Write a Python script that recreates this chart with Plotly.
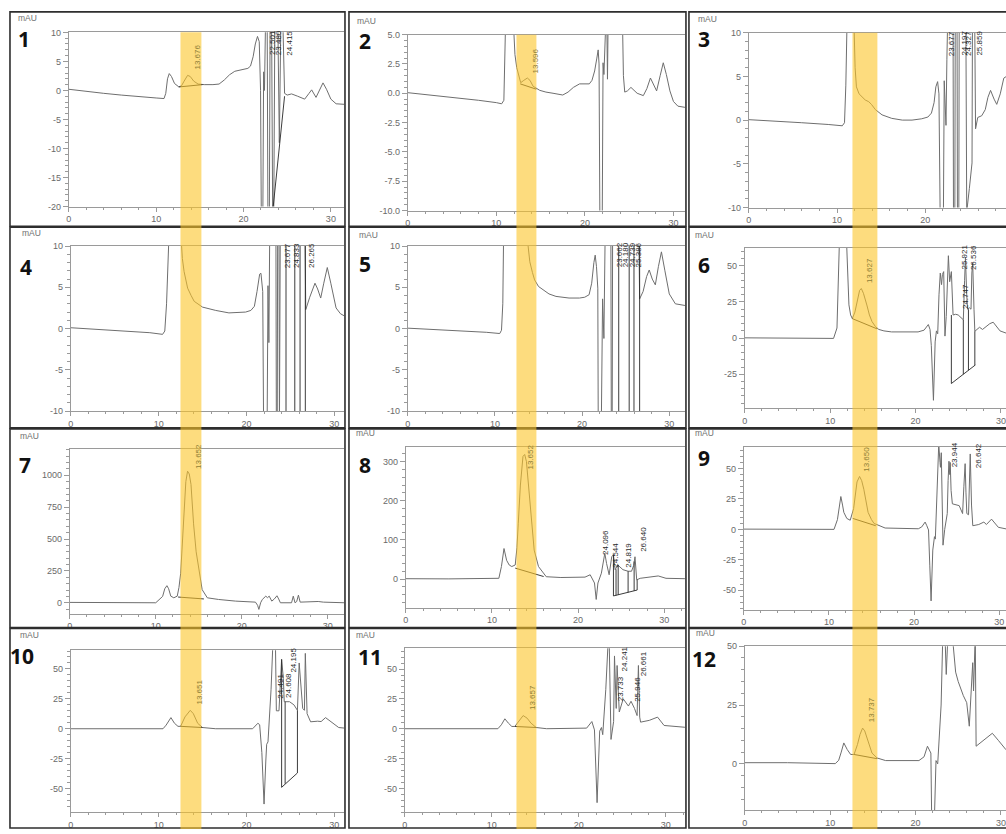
import plotly.graph_objects as go

W, H = 1006, 834

# ---------------------------------------------------------------------------
# Chromatogram signals: (retention time [min], absorbance [mAU])
# ---------------------------------------------------------------------------
trace_01 = [(0, 0.2), (2, -0.2), (4, -0.5), (6, -0.8), (8, -1.1), (10, -1.3), (10.9, -1.4), (11.1, -0.5),
            (11.3, 2.0), (11.5, 2.9), (11.75, 2.4), (12.1, 1.2), (12.6, 0.6), (12.9, 0.8), (13.2, 1.6),
            (13.6, 2.6), (13.9, 2.4), (14.3, 1.6), (14.8, 1.1), (15.5, 1.0), (16.5, 1.0), (17.2, 1.1),
            (17.8, 1.8), (18.4, 2.7), (19.0, 3.3), (19.9, 3.6), (20.5, 3.8), (20.8, 4.2), (21.1, 5.8),
            (21.35, 8.0), (21.6, 9.3), (21.8, 8.4), (21.95, 0), (22.05, -25), (22.2, -25), (22.3, 3.2),
            (22.4, 0), (22.55, 15), (22.7, 15), (22.8, -25), (22.95, -25), (23.05, 15), (23.2, 15),
            (23.35, -25), (23.45, -25), (23.6, 15), (23.9, 15), (24.1, -9), (24.3, 15), (24.45, 15),
            (24.7, -0.5), (25.0, -0.8), (25.5, -0.6), (26.2, -1.0), (27.0, -1.5), (27.5, -0.5),
            (27.8, 0.1), (28.3, -1.2), (28.7, 0.0), (29.1, 1.3), (29.5, 0.2), (30.0, -1.5),
            (30.6, -2.3), (31.6, -2.4)]

trace_02 = [(0, 0.05), (2, -0.1), (4, -0.3), (6, -0.45), (8, -0.6), (10, -0.8), (10.6, -0.9), (10.85, -0.6),
            (11.0, 3), (11.1, 8), (11.8, 8), (11.95, 5), (12.1, 3.3), (12.3, 2.2), (12.5, 1.5), (12.75, 0.9),
            (13.1, 1.1), (13.5, 1.3), (13.8, 1.1), (14.15, 0.6), (14.9, 0.25), (15.6, 0.1), (16.4, 0.0),
            (17.5, -0.15), (18.1, 0.1), (18.7, 0.5), (19.4, 0.8), (20.5, 0.8), (20.8, 1.1), (21.1, 1.9),
            (21.35, 3.0), (21.5, 3.7), (21.6, 2.5), (21.7, -12), (21.95, -12), (22.05, 2.6), (22.15, 1.6),
            (22.25, 8), (22.45, 8), (22.55, 1.2), (22.65, 8), (24.2, 8), (24.35, 1.5), (24.5, 0.1),
            (24.8, 0.2), (25.2, 0.5), (25.5, 0.3), (25.9, 0.0), (26.6, -0.2), (27.0, 0.4), (27.4, 1.3),
            (27.7, 0.8), (28.1, 0.2), (28.5, 1.5), (28.85, 2.6), (29.2, 1.6), (29.6, 0.2), (30.0, -0.7),
            (30.5, -1.1), (31.3, -1.2)]

trace_03 = [(0, 0.05), (3, -0.1), (6, -0.3), (9, -0.5), (10.6, -0.65), (10.85, -0.3), (11.0, 4), (11.15, 12),
            (11.9, 12), (12.05, 6), (12.2, 3.8), (12.5, 3.0), (12.9, 2.6), (13.2, 2.3), (13.6, 2.1),
            (13.9, 1.8), (14.35, 1.2), (15.1, 0.6), (16.2, 0.2), (17.4, 0.0), (18.5, 0.0), (19.6, 0.15),
            (20.3, 0.35), (20.7, 0.8), (21.0, 2.0), (21.2, 3.8), (21.4, 4.4), (21.55, 3.0), (21.7, -12),
            (22.05, -12), (22.15, 4.5), (22.25, 1.0), (22.35, -0.6), (22.45, 6.9), (22.55, 12), (23.15, 12),
            (23.2, -12), (23.35, -12), (23.4, 12), (23.6, 12), (23.65, -12), (23.8, -12), (23.85, 12),
            (24.6, 12), (24.7, -10.5), (25.0, -7.8), (25.3, -4.9), (25.35, 12), (25.6, 12), (25.7, -1.0),
            (25.95, 0.3), (26.4, 0.5), (26.8, 1.2), (27.1, 2.6), (27.4, 3.4), (27.8, 2.4), (28.1, 1.8),
            (28.5, 3.0), (28.9, 4.8), (29.2, 5.0)]

trace_04 = [(0, 0.1), (3, -0.1), (6, -0.3), (9, -0.5), (10.45, -0.7), (10.7, -0.3), (10.9, 3), (11.05, 8),
            (11.2, 12), (12.5, 12), (12.7, 8.5), (12.9, 6.9), (13.3, 4.9), (13.7, 4.0), (14.05, 3.3),
            (15.0, 2.6), (16.5, 2.2), (18.0, 1.9), (19.9, 2.0), (20.5, 2.2), (20.9, 2.7), (21.2, 4.5),
            (21.5, 6.6), (21.65, 6.7), (21.85, 4.5), (21.95, -12), (22.35, -12), (22.45, 5.2), (22.55, -1.7),
            (22.65, 12), (23.35, 12), (23.4, -12), (23.5, -12), (23.55, 12), (23.7, 12), (23.75, -12),
            (23.85, 12), (26.65, 12), (26.75, 2.3), (27.2, 3.8), (27.8, 5.5), (28.1, 4.8), (28.45, 3.7),
            (28.8, 5.5), (29.2, 7.4), (29.6, 5.5), (30.2, 2.5), (30.7, 1.8), (31.2, 1.5)]

trace_05 = [(0, 0.05), (3, -0.1), (6, -0.25), (9, -0.45), (10.55, -0.6), (10.75, -0.2), (10.9, 3), (11.0, 12),
            (13.6, 12), (13.85, 9.5), (14.0, 8.1), (14.3, 6.8), (14.55, 5.9), (15.0, 5.1), (15.5, 4.7),
            (16.2, 4.2), (17.0, 3.9), (18.5, 3.7), (19.7, 3.7), (20.3, 3.8), (20.8, 4.1), (21.1, 5.5),
            (21.35, 8.0), (21.5, 8.9), (21.65, 7.5), (21.8, 4.9), (21.85, -12), (22.2, -12), (22.35, 3.6),
            (22.5, -1.2), (22.65, 12), (23.3, 12), (23.35, -12), (23.45, -12), (23.5, 12), (26.5, 12),
            (26.6, 3.6), (27.0, 4.5), (27.4, 6.3), (27.7, 7.1), (28.05, 6.0), (28.4, 5.3), (28.75, 7.5),
            (29.1, 9.3), (29.5, 7.0), (30.0, 4.2), (30.7, 3.0), (31.8, 2.8)]

trace_06 = [(0, 0.2), (5, 0), (10.4, -0.2), (10.8, 7), (11.0, 40), (11.1, 70), (11.9, 70), (12.05, 40),
            (12.2, 23), (12.4, 16), (12.6, 13.5), (12.9, 18), (13.2, 27), (13.45, 33), (13.65, 34.3),
            (13.9, 31), (14.3, 22.9), (14.6, 16), (14.9, 11.5), (15.3, 8), (15.7, 6), (16.3, 5), (17.2, 4.3),
            (19.0, 4.3), (20.3, 4.3), (21.0, 5.5), (21.5, 9.4), (21.7, 6), (21.85, -5), (22.1, -43),
            (22.3, -2.6), (22.45, 5), (22.6, 3), (22.75, 30), (22.9, 45), (23.05, 37), (23.15, 44),
            (23.3, 46), (23.45, 1.4), (23.6, 15), (23.85, 57), (24.0, 39), (24.2, 46), (24.4, 16),
            (24.7, 16.5), (25.0, 16), (25.3, 14.5), (25.6, 12.7), (25.75, 40), (25.85, 56), (26.0, 30),
            (26.1, 20), (26.3, 21), (26.5, 20), (26.6, 45), (26.7, 52), (26.85, 20), (26.95, 4.7),
            (27.2, 6), (27.5, 7.5), (27.85, 6), (28.3, 8.4), (28.7, 10), (29.1, 11), (29.5, 8),
            (29.9, 5), (30.6, 3.5)]

trace_07 = [(0, 3), (5, 2), (10, 0), (10.8, 50), (11.05, 110), (11.3, 134), (11.5, 110), (11.75, 52),
            (12.1, 39), (12.5, 52), (12.7, 120), (12.9, 232), (13.1, 480), (13.3, 748), (13.5, 950),
            (13.7, 1032), (13.9, 1010), (14.1, 929), (14.4, 619), (14.7, 400), (15.0, 258), (15.4, 103),
            (16.0, 39), (17.3, 26), (19.3, 13), (21.6, 5), (21.85, -20), (22.0, -52), (22.2, 0), (22.4, 26),
            (22.8, 52), (23.0, 40), (23.2, 52), (23.5, 13), (23.8, 30), (24.1, 55), (24.3, 30), (24.5, 0),
            (25.8, 0), (26.0, 52), (26.2, 0), (26.4, 10), (26.6, 60), (26.8, 5), (28.9, 10), (29.5, 5),
            (32, 0)]

trace_08 = [(0, 1), (5, 0.5), (10.8, 2), (11.1, 32), (11.4, 78), (11.7, 48), (12.0, 36), (12.3, 32),
            (12.7, 36), (12.9, 80), (13.05, 141), (13.3, 240), (13.6, 313), (13.8, 318), (14.0, 300),
            (14.2, 250), (14.4, 183), (14.65, 120), (14.9, 74), (15.4, 32), (16.3, 6), (18, 4), (20.8, 5),
            (21.4, 11), (21.9, -10), (22.1, -52), (22.3, -10), (22.7, 15), (23.1, 66), (23.3, 40),
            (23.6, 11), (23.9, 57), (24.1, 62), (24.3, 24), (24.6, 36), (25.2, 24), (25.8, 20), (26.2, 20),
            (26.45, 35), (26.6, 57), (26.8, -2), (27.2, 2), (28.5, 5), (29.3, 8), (30.2, 2), (32.4, 1)]

trace_09 = [(0, 0.2), (5, 0), (10.6, 0), (11.0, 8), (11.2, 20), (11.4, 27), (11.6, 20), (11.75, 14),
            (12.1, 9), (12.5, 7.5), (12.9, 17), (13.3, 39), (13.6, 43.5), (13.85, 40), (14.1, 33),
            (14.35, 22), (14.6, 14), (15.0, 8), (15.3, 4.9), (16.6, 1.1), (20.5, 0.5), (20.9, 2), (21.3, 6),
            (21.5, 3), (21.7, -0.5), (21.85, -30), (22.0, -58.8), (22.2, -17), (22.3, -8), (22.4, -6),
            (22.5, -8), (22.7, 30), (22.9, 70), (23.05, 55), (23.1, 51), (23.2, 63), (23.4, -13),
            (23.6, 0), (23.9, 13), (24.0, 40), (24.1, 56), (24.2, 45), (24.25, 55), (24.35, 32),
            (24.5, 21), (25.3, 19.5), (25.7, 13), (25.85, 35), (26.0, 54), (26.1, 30), (26.2, 13),
            (26.4, 12), (26.6, 62), (26.75, 20), (26.9, 3), (27.6, 4), (28.2, 6), (28.5, 4), (29.1, 8.4),
            (29.9, 1.7), (30.8, 0.4)]

trace_10 = [(0, 0), (5, -0.3), (10.5, 0), (10.85, 3), (11.4, 9.3), (11.8, 4.6), (12.2, 2), (12.5, 2),
            (13.0, 9.9), (13.6, 15.4), (13.95, 12.6), (14.45, 4.5), (15.0, 1), (16.5, 0), (20.7, 0),
            (21.3, 4.6), (21.5, 3.3), (21.75, -20), (22.0, -63), (22.2, -27), (22.3, -13), (22.45, -11),
            (22.8, 33), (23.0, 70), (23.3, 70), (23.4, 15), (23.7, 15), (24.0, 58), (24.2, 42),
            (24.3, 22.6), (24.9, 22.6), (25.4, 20), (25.8, 15.4), (26.0, 55), (26.2, 33), (26.4, 17),
            (26.6, 15.4), (26.7, 63), (26.9, 12.6), (27.3, 5.8), (28.1, 6.3), (28.5, 6), (29.0, 9.3),
            (29.8, 4.6), (30.5, 1), (31.2, 0.5)]

trace_11 = [(0, 0), (5, -0.2), (10.7, 0), (11.1, 3.3), (11.5, 8.3), (11.9, 4.7), (12.3, 1.9), (12.65, 1.9),
            (13.1, 6), (13.6, 11), (14.05, 8.9), (14.5, 4.7), (15.1, 1), (16.3, 0), (20.9, 0.5), (21.5, 6),
            (21.8, -1), (22.1, -62), (22.4, -2), (22.6, 1), (22.75, -5), (23.1, 33), (23.35, 70),
            (23.5, 70), (23.7, -9), (24.0, 6), (24.1, 61), (24.3, 17), (24.4, 53), (24.65, 14), (25.1, 25),
            (25.7, 19), (26.0, 23), (26.4, 17), (26.7, 11), (26.85, 53), (27.0, 9.7), (27.1, 5.5),
            (28.1, 7), (29.05, 9.7), (29.8, 2.7), (31.5, 1.4), (32.2, 1.2)]

trace_12 = [(0, 0.5), (5, 0.5), (10.6, 0.1), (11.0, 1.5), (11.3, 5), (11.6, 8.9), (12.0, 6.1), (12.4, 4.0),
            (12.8, 4), (13.2, 8.2), (13.5, 12.5), (13.8, 15.2), (14.05, 14), (14.35, 10.3), (14.9, 4.6),
            (15.5, 2.5), (16.5, 1.4), (20.4, 1.4), (21.0, 3), (21.4, 7.5), (21.8, 4.6), (21.9, -25),
            (22.2, -25), (22.4, 1.4), (22.6, 0), (23.0, 25), (23.2, 55), (23.45, 55), (23.6, 38),
            (23.8, 55), (24.3, 55), (24.7, 39), (25.0, 35), (25.6, 29), (26.0, 26), (26.3, 16), (26.5, 32),
            (26.7, 43), (26.8, 31), (27.0, 55), (27.1, 7.5), (27.6, 8.9), (28.4, 11), (29.0, 13),
            (29.7, 10), (30.6, 6)]

# Integration baselines and drop lines (segments separated by None)
base_01 = [(12.6, 0.6), (15.3, 1.0), None, (23.4, -20), (24.7, -1.0)]
base_02 = [(12.7, 0.8), (14.5, 0.35)]
base_03 = []
base_04 = [(24.5, -12), (24.5, 12), None, (25.5, -12), (25.5, 12), None,
           (26.1, -12), (26.1, 12), None, (26.7, -12), (26.7, 12)]
base_05 = [(24.2, -12), (24.2, 12), None, (25.4, -12), (25.4, 12), None,
           (25.95, -12), (25.95, 12), None, (26.6, -12), (26.6, 12)]
base_06 = [(12.6, 13.5), (15.5, 6.4), None, (24.2, -31.4), (27.0, -18.6), None,
           (24.2, -31.4), (24.2, 16), None, (25.6, -25), (25.6, 12.7), None,
           (26.2, -22.3), (26.2, 20), None, (26.95, -18.8), (26.95, 4.7)]
base_07 = [(12.6, 45), (15.6, 30)]
base_08 = [(12.7, 28), (16.0, 6.5), None, (24.1, -43), (26.85, -28), None,
           (24.1, -43), (24.1, 62), None, (24.4, -41.5), (24.4, 25), None,
           (24.65, -40), (24.65, 36), None, (25.8, -34), (25.8, 20), None,
           (26.5, -30), (26.5, 45), None, (26.85, -28), (26.85, -2)]
base_09 = [(12.8, 9), (15.5, 3)]
base_10 = [(12.5, 2), (15.0, 1), None, (24.0, -49), (25.8, -37), None,
           (24.0, -49), (24.0, 58), None, (24.4, -46), (24.4, 22.6), None,
           (25.8, -37), (25.8, 15.4)]
base_11 = [(12.65, 1.9), (15.1, 1.0)]
base_12 = [(12.8, 4), (15.5, 2.2)]

# Peak labels: (retention time text, anchor time, anchor level)
labels_01 = [("13.676", 14.7, 3.2), ("22.501", 23.4, 5.7), ("23.480", 24.1, 5.7), ("24.415", 25.3, 5.7)]
labels_02 = [("13.596", 14.4, 1.5)]
labels_03 = [("23.677", 23.0, 7.1), ("24.197", 24.4, 7.1), ("24.327", 24.9, 7.1), ("25.859", 26.1, 7.1)]
labels_04 = [("23.677", 24.7, 7.1), ("24.833", 25.7, 7.1), ("26.265", 27.4, 7.1)]
labels_05 = [("23.662", 24.3, 7.2), ("24.180", 25.0, 7.2), ("24.739", 25.8, 7.2), ("25.386", 26.5, 7.2)]
labels_06 = [("13.627", 14.6, 36.6), ("24.747", 25.8, 18.4), ("25.921", 25.8, 45.7), ("26.536", 26.8, 45.7)]
labels_07 = [("13.652", 14.95, 1032)]
labels_08 = [("13.652", 14.5, 275), ("24.096", 23.2, 57), ("24.544", 24.3, 23), ("24.819", 25.8, 23),
             ("26.640", 27.5, 65)]
labels_09 = [("13.650", 14.4, 45.6), ("23.944", 24.7, 49), ("26.642", 27.5, 49)]
labels_10 = [("13.651", 14.6, 18.2), ("24.491", 23.9, 23.7), ("24.608", 24.85, 23.7), ("24.195", 25.4, 45.6)]
labels_11 = [("13.657", 14.74, 13.6), ("23.733", 24.75, 21), ("24.241", 25.2, 46), ("25.946", 26.65, 21),
             ("26.661", 27.4, 42)]
labels_12 = [("13.737", 14.8, 16.7)]

# y-axis tick values and minor tick step for each run
yticks_01, yminor_01 = [-20, -15, -10, -5, 0, 5, 10], 1
yticks_02, yminor_02 = [-10, -7.5, -5, -2.5, 0, 2.5, 5], 0.5
yticks_03, yminor_03 = [-10, -5, 0, 5, 10], 1
yticks_04, yminor_04 = [-10, -5, 0, 5, 10], 1
yticks_05, yminor_05 = [-10, -5, 0, 5, 10], 1
yticks_06, yminor_06 = [-25, 0, 25, 50], 5
yticks_07, yminor_07 = [0, 250, 500, 750, 1000], 50
yticks_08, yminor_08 = [0, 100, 200, 300], 20
yticks_09, yminor_09 = [-50, -25, 0, 25, 50], 5
yticks_10, yminor_10 = [-50, -25, 0, 25, 50], 5
yticks_11, yminor_11 = [-50, -25, 0, 25, 50], 5
yticks_12, yminor_12 = [0, 25, 50], 5
xticks = [0, 10, 20, 30]

traces = [trace_01, trace_02, trace_03, trace_04, trace_05, trace_06,
          trace_07, trace_08, trace_09, trace_10, trace_11, trace_12]
bases = [base_01, base_02, base_03, base_04, base_05, base_06,
         base_07, base_08, base_09, base_10, base_11, base_12]
labels = [labels_01, labels_02, labels_03, labels_04, labels_05, labels_06,
          labels_07, labels_08, labels_09, labels_10, labels_11, labels_12]
yticks = [yticks_01, yticks_02, yticks_03, yticks_04, yticks_05, yticks_06,
          yticks_07, yticks_08, yticks_09, yticks_10, yticks_11, yticks_12]
yminors = [yminor_01, yminor_02, yminor_03, yminor_04, yminor_05, yminor_06,
           yminor_07, yminor_08, yminor_09, yminor_10, yminor_11, yminor_12]

# ---------------------------------------------------------------------------
# Page layout (pixels): frame box, plot area, x extent, y range, number position, "mAU" position
# ---------------------------------------------------------------------------
panels = [
    dict(box=(7, 343, 7, 224), plot=(66, 342, 27.7, 204), xmax=31.5, yr=(-20, 10), num=(21, 34), mau=(13, 13.5)),
    dict(box=(347, 685, 7, 224), plot=(406, 684, 30, 208), xmax=31.3, yr=(-10, 5), num=(363, 36), mau=(353, 16.5)),
    dict(box=(688, 1012, 7, 224), plot=(748, 1006, 28, 205), xmax=29.15, yr=(-10, 10), num=(703, 34), mau=(695, 14)),
    dict(box=(7, 343, 225, 428), plot=(68, 342, 244, 411), xmax=31.1, yr=(-10, 10), num=(23, 265), mau=(17, 231)),
    dict(box=(347, 685, 225, 428), plot=(406, 684, 244, 411), xmax=31.8, yr=(-10, 10), num=(363, 262), mau=(355, 233)),
    dict(box=(688, 1012, 225, 428), plot=(744, 1006, 246, 408), xmax=30.6, yr=(-48.4, 62.3), num=(703, 263), mau=(692, 233)),
    dict(box=(7, 343, 429, 630), plot=(67, 342, 449, 616), xmax=31.9, yr=(-85, 1209), num=(22, 466), mau=(15, 436)),
    dict(box=(347, 685, 429, 630), plot=(404, 684, 447, 610), xmax=32.4, yr=(-73, 338), num=(363, 466), mau=(352, 433)),
    dict(box=(688, 1012, 429, 630), plot=(743, 1006, 447, 612), xmax=30.8, yr=(-66, 68), num=(703, 458), mau=(692, 433)),
    dict(box=(7, 343, 631, 833), plot=(68, 342, 653, 817), xmax=31.1, yr=(-69.8, 65.7), num=(19, 659), mau=(15, 638)),
    dict(box=(347, 685, 631, 833), plot=(403, 684, 651, 817), xmax=32.2, yr=(-70, 67.5), num=(368, 660), mau=(352, 637.5)),
    dict(box=(688, 1012, 631, 833), plot=(744, 1006, 649, 815), xmax=30.6, yr=(-19.7, 50), num=(703, 662), mau=(693, 636)),
]

# highlighted retention window (pixel columns, one per column of panels)
bands = [(178, 199, 27.7), (515, 535, 30), (852, 877, 28)]


def fx(px):
    return px / W


def fy(py):
    return 1 - py / H


TICK_FONT = dict(family="Liberation Sans, Arial, sans-serif", size=9, color="#6a6a6a")
AXIS_COL = "#9a9a9a"
LINE_COL = "#6e6e6e"

fig = go.Figure()
shapes, annotations = [], []
layout_axes = {}

for i, p in enumerate(panels):
    n = i + 1
    k = "" if n == 1 else str(n)
    xref, yref = "x" + k, "y" + k

    pl, pr, pt, pb = p["plot"]
    xs = [q[0] for q in traces[i]]
    ys = [q[1] for q in traces[i]]
    fig.add_trace(go.Scatter(x=xs, y=ys, mode="lines", xaxis=xref, yaxis=yref,
                             line=dict(color=LINE_COL, width=1), hoverinfo="skip"))
    if bases[i]:
        bx = [None if q is None else q[0] for q in bases[i]]
        by = [None if q is None else q[1] for q in bases[i]]
        fig.add_trace(go.Scatter(x=bx, y=by, mode="lines", xaxis=xref, yaxis=yref,
                                 line=dict(color="#262626", width=0.9), hoverinfo="skip"))

    ytext = [f"{v:.1f}" if n == 2 else f"{v:g}" for v in yticks[i]]
    layout_axes["xaxis" + k] = dict(
        domain=[fx(pl), fx(pr)], anchor=yref, range=[0, p["xmax"]],
        showline=True, linecolor=AXIS_COL, linewidth=1, mirror=True,
        ticks="outside", ticklen=4, tickcolor=AXIS_COL, tickwidth=1,
        tickmode="array", tickvals=xticks, ticktext=[str(v) for v in xticks],
        tickfont=TICK_FONT, showgrid=False, zeroline=False, fixedrange=True,
        minor=dict(ticks="outside", ticklen=2, tickcolor=AXIS_COL, tickmode="linear", tick0=0, dtick=2),
    )
    layout_axes["yaxis" + k] = dict(
        domain=[fy(pb), fy(pt)], anchor=xref, range=list(p["yr"]),
        showline=True, linecolor=AXIS_COL, linewidth=1,
        ticks="outside", ticklen=5, tickcolor=AXIS_COL, tickwidth=1,
        tickmode="array", tickvals=yticks[i], ticktext=ytext,
        tickfont=TICK_FONT, showgrid=False, zeroline=False, fixedrange=True,
        minor=dict(ticks="outside", ticklen=3, tickcolor=AXIS_COL, tickmode="linear", tick0=0, dtick=yminors[i]),
    )

    # frame around the run
    bl, br, bt, bb = p["box"]
    shapes.append(dict(type="rect", xref="paper", yref="paper", x0=fx(bl), x1=fx(br), y0=fy(bb), y1=fy(bt),
                       line=dict(color="#2e2e2e", width=1.6), fillcolor="rgba(0,0,0,0)", layer="above"))

    # run number and unit
    annotations.append(dict(text=f"<b>{n}</b>", x=fx(p["num"][0]), y=fy(p["num"][1]), xref="paper", yref="paper",
                            showarrow=False, xanchor="center", yanchor="middle",
                            font=dict(family="Noto Sans, Liberation Sans, sans-serif", size=21, color="#111111")))
    annotations.append(dict(text="mAU", x=fx(p["mau"][0]), y=fy(p["mau"][1]), xref="paper", yref="paper",
                            showarrow=False, xanchor="left", yanchor="middle",
                            font=dict(family="Liberation Sans, Arial, sans-serif", size=8.5, color="#707070")))

    # peak retention-time labels
    for txt, t, lvl in labels[i]:
        in_window = 12.5 < t < 15.5
        annotations.append(dict(text=txt, x=t, y=lvl, xref=xref, yref=yref, showarrow=False,
                                textangle=-90, xanchor="center", yanchor="bottom",
                                font=dict(family="Liberation Sans, Arial, sans-serif", size=8,
                                          color="#8f7e36" if in_window else "#2a2a2a")))

# translucent highlight of the target retention window
for x0, x1, top in bands:
    shapes.append(dict(type="rect", xref="paper", yref="paper", x0=fx(x0), x1=fx(x1), y0=0, y1=fy(top),
                       line=dict(width=0), fillcolor="rgba(252,196,40,0.6)", layer="above"))

fig.update_layout(
    width=W, height=H, autosize=False,
    margin=dict(l=0, r=0, t=0, b=0),
    paper_bgcolor="white", plot_bgcolor="rgba(0,0,0,0)",
    showlegend=False, shapes=shapes, annotations=annotations,
    **layout_axes,
)

fig.write_html("out.html", config=dict(displayModeBar=False))
